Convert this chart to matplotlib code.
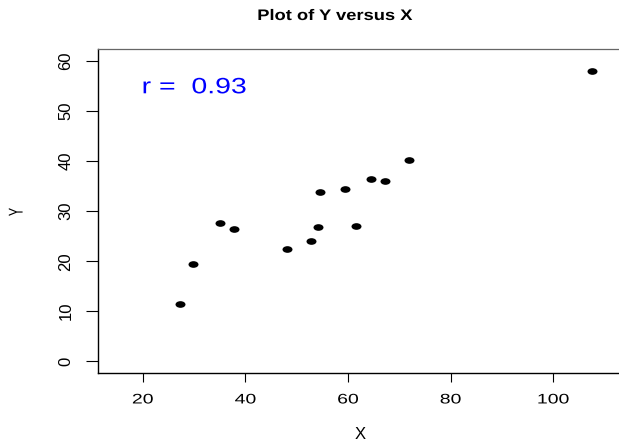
import matplotlib
matplotlib.use("Agg")
import matplotlib.pyplot as plt
import numpy as np
from matplotlib.path import Path
from matplotlib.patheffects import AbstractPathEffect
from matplotlib.transforms import Affine2D

# ---- data ----
x_values = [27.3, 29.8, 35.0, 37.8, 48.2, 52.7, 54.2, 54.5, 59.4, 61.5, 64.5, 67.2, 71.8, 107.5]
y_values = [11.5, 19.4, 27.7, 26.4, 22.4, 24.1, 26.9, 33.9, 34.4, 27.1, 36.4, 36.0, 40.3, 58.1]
x_ticks = [20, 40, 60, 80, 100]
y_ticks = [0, 10, 20, 30, 40, 50, 60]
title = "Plot of Y versus X"
r_label = "r =  0.93"

plt.rcParams['font.family'] = ['Liberation Sans', 'DejaVu Sans']


class Stretch(AbstractPathEffect):
    """Stretch drawn text horizontally about its ink centre."""
    def __init__(self, sx=1.0, sy=1.0):
        super().__init__()
        self.sx, self.sy = sx, sy

    def draw_path(self, renderer, gc, tpath, affine, rgbFace=None):
        ext = tpath.get_extents(affine)
        cx = (ext.x0 + ext.x1) / 2
        cy = (ext.y0 + ext.y1) / 2
        aff = affine + Affine2D().translate(-cx, -cy).scale(self.sx, self.sy).translate(cx, cy)
        renderer.draw_path(gc, tpath, aff, rgbFace)


W, H = 619, 441
fig = plt.figure(figsize=(W / 100, H / 100), dpi=100)
left, right, top, bottom = 97.7, 624.0, 49.0, 373.3
ax = fig.add_axes([left / W, (H - bottom) / H, (right - left) / W, (bottom - top) / H])

ucirc = Path.unit_circle()
ell = Path(ucirc.vertices * np.array([1.5, 1.0]), ucirc.codes)

ax.plot(x_values, y_values, linestyle='none', marker=ell, markersize=7.2,
        color='black', markeredgewidth=0)

ax.set_xlim(11.2, 113.8)
ax.set_ylim(-2.4, 62.4)
ax.set_xticks(x_ticks)
ax.set_yticks(y_ticks)

for s in ['left', 'bottom']:
    ax.spines[s].set_color('black')
    ax.spines[s].set_linewidth(1.0)
ax.spines['top'].set_color('#666666')
ax.spines['top'].set_linewidth(0.9)
ax.spines['right'].set_visible(False)

ax.tick_params(axis='x', length=6.8, width=0.8, pad=7, labelsize=10, colors='black')
ax.tick_params(axis='y', length=8.4, width=0.8, pad=9, labelsize=12, colors='black')

for lbl in ax.get_xticklabels():
    lbl.set_path_effects([Stretch(1.4)])
for lbl in ax.get_yticklabels():
    lbl.set_rotation(90)
    lbl.set_va('center')
    lbl.set_ha('right')

ax.text(30.0, 53.55, r_label, color='#0000FF', fontsize=16, ha='center', va='baseline',
        path_effects=[Stretch(1.28)])

fig.text(335 / W, 1 - 20 / H, title, ha='center', va='baseline', fontsize=11,
         fontweight='bold', path_effects=[Stretch(1.2)])
fig.text(360 / W, 1 - 439 / H, 'X', ha='center', va='baseline', fontsize=12)
fig.text(20 / W, 1 - 212 / H, 'Y', ha='center', va='baseline', rotation=90,
         rotation_mode='anchor', fontsize=9, path_effects=[Stretch(1.6)])

fig.savefig('out.png', dpi=100)
